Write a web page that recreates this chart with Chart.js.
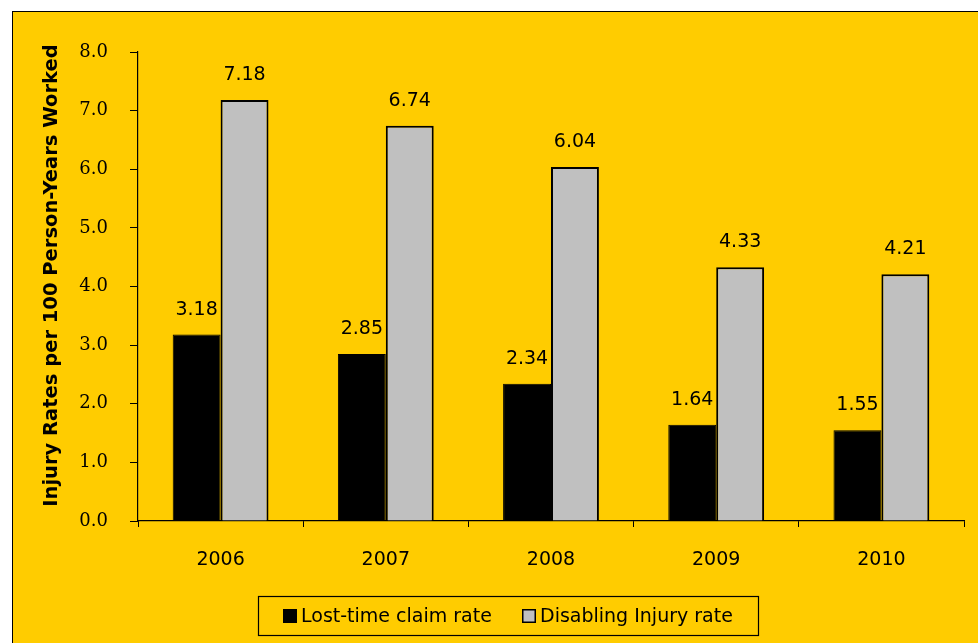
<!DOCTYPE html>
<html>
<head>
<meta charset="utf-8">
<script src="https://cdn.jsdelivr.net/npm/chart.js@4"></script>
<style>
  html, body { margin: 0; padding: 0; background: #fff; }
  .frame {
    position: absolute;
    left: 12px;
    top: 11px;
    width: 965px;
    height: 631px;
    background: #ffcc00;
    border-left: 1.5px solid #000;
    border-top: 1.5px solid #000;
  }
  canvas { display: block; }
</style>
</head>
<body>
<div class="frame"><canvas id="chart" width="965" height="631"></canvas></div>
<script>
const years = ["2006", "2007", "2008", "2009", "2010"];
const lostTimeRate = [3.18, 2.85, 2.34, 1.64, 1.55];
const disablingRate = [7.18, 6.74, 6.04, 4.33, 4.21];
const yTicks = [0, 1, 2, 3, 4, 5, 6, 7, 8];
const yTitle = "Injury Rates per 100 Person-Years Worked";

const SANS = "'DejaVu Sans', Verdana, sans-serif";
const SERIF = "'DejaVu Serif', serif";

// value labels above each bar
const barValues = {
  id: "barValues",
  afterDatasetsDraw(chart) {
    const { ctx } = chart;
    ctx.save();
    ctx.font = `19px ${SANS}`;
    ctx.fillStyle = "#000";
    ctx.textAlign = "center";
    ctx.textBaseline = "middle";
    chart.data.datasets.forEach((ds, i) => {
      chart.getDatasetMeta(i).data.forEach((bar, j) => {
        ctx.fillText(ds.data[j].toFixed(2), bar.x, bar.y - 25);
      });
    });
    ctx.restore();
  },
};

// rotated y-axis title, sitting a little above the axis middle
const sideTitle = {
  id: "sideTitle",
  afterDraw(chart) {
    const { ctx, chartArea } = chart;
    const cy = (chartArea.top + chartArea.bottom) / 2 - 11;
    ctx.save();
    ctx.translate(39, cy);
    ctx.rotate(-Math.PI / 2);
    ctx.font = `bold 19.5px ${SANS}`;
    ctx.fillStyle = "#000";
    ctx.textAlign = "center";
    ctx.textBaseline = "middle";
    ctx.fillText(yTitle, 0, 0);
    ctx.restore();
  },
};

// boxed legend under the axis
const boxLegend = {
  id: "boxLegend",
  afterDraw(chart) {
    const { ctx } = chart;
    const box = { x: 245.5, y: 584.5, w: 500, h: 39 };
    ctx.save();
    ctx.strokeStyle = "#000";
    ctx.lineWidth = 1.2;
    ctx.strokeRect(box.x, box.y, box.w, box.h);
    ctx.font = `19px ${SANS}`;
    ctx.textBaseline = "middle";
    const cy = box.y + box.h / 2;
    const starts = [270, 509];
    chart.data.datasets.forEach((ds, i) => {
      const sx = starts[i];
      ctx.fillStyle = ds.backgroundColor;
      ctx.fillRect(sx, cy - 7, 14, 14);
      ctx.strokeStyle = "#000";
      ctx.lineWidth = 1.5;
      ctx.strokeRect(sx + 0.75, cy - 6.25, 12.5, 12.5);
      ctx.fillStyle = "#000";
      ctx.fillText(ds.label, sx + 18, cy + 1);
    });
    ctx.restore();
  },
};

new Chart(document.getElementById("chart"), {
  type: "bar",
  data: {
    labels: years,
    datasets: [
      {
        label: "Lost-time claim rate",
        data: lostTimeRate,
        backgroundColor: "#000000",
        borderColor: "#000000",
        borderWidth: 1,
      },
      {
        label: "Disabling Injury rate",
        data: disablingRate,
        backgroundColor: "#c0c0c0",
        borderColor: "#000000",
        borderWidth: 2,
      },
    ],
  },
  options: {
    responsive: false,
    animation: false,
    layout: { padding: { left: 0, right: 14, top: 40, bottom: 0 } },
    datasets: {
      bar: { categoryPercentage: 0.58, barPercentage: 1.0 },
    },
    plugins: {
      legend: { display: false },
      tooltip: { enabled: false },
    },
    scales: {
      x: {
        afterFit: (scale) => { scale.height = 122; },
        border: { display: true, color: "#000", width: 1.2 },
        grid: {
          offset: true,
          drawOnChartArea: false,
          drawTicks: true,
          tickLength: 6,
          color: "#000",
        },
        ticks: {
          color: "#000",
          padding: 22,
          font: { family: SANS, size: 19 },
        },
      },
      y: {
        min: 0,
        max: 8,
        afterFit: (scale) => { scale.width = 125; },
        afterBuildTicks: (scale) => {
          scale.ticks = yTicks.map((v) => ({ value: v }));
        },
        border: { display: true, color: "#000", width: 1.2 },
        grid: {
          drawOnChartArea: false,
          drawTicks: true,
          tickLength: 8,
          color: "#000",
        },
        ticks: {
          color: "#000",
          padding: 22,
          font: { family: SERIF, size: 18 },
          callback: (v) => Number(v).toFixed(1),
        },
      },
    },
  },
  plugins: [barValues, sideTitle, boxLegend],
});
</script>
</body>
</html>
